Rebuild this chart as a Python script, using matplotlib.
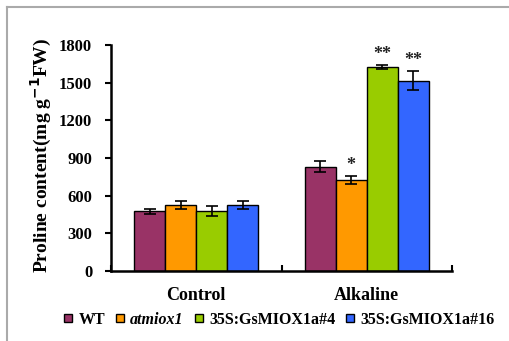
import matplotlib.pyplot as plt
from matplotlib.lines import Line2D
import numpy as np

# proline content, mg g-1 FW
groups = ["Control", "Alkaline"]
lines = ["WT", "atmiox1", "35S:GsMIOX1a#4", "35S:GsMIOX1a#16"]
values = {
    "WT": [475, 830],
    "atmiox1": [525, 725],
    "35S:GsMIOX1a#4": [475, 1625],
    "35S:GsMIOX1a#16": [525, 1515],
}
errors = {
    "WT": [20, 45],
    "atmiox1": [30, 30],
    "35S:GsMIOX1a#4": [40, 15],
    "35S:GsMIOX1a#16": [30, 75],
}
stars = {
    "WT": ["", ""],
    "atmiox1": ["", "*"],
    "35S:GsMIOX1a#4": ["", "**"],
    "35S:GsMIOX1a#16": ["", "**"],
}
colors = ["#993366", "#FF9900", "#99CC00", "#3366FF"]

plt.rcParams["font.family"] = ["Liberation Serif", "DejaVu Serif"]
plt.rcParams["font.weight"] = "bold"

fig = plt.figure(figsize=(5.09, 3.41), dpi=100)
ax = fig.add_axes([111 / 509, 1 - 271 / 341, 341 / 509, 226 / 341])

x = np.arange(len(groups))
w = 0.182
offsets = (np.arange(len(lines)) - 1.5) * w
for i, name in enumerate(lines):
    ax.bar(x + offsets[i], values[name], w, color=colors[i], edgecolor="black",
           linewidth=1.0, yerr=errors[name],
           error_kw=dict(ecolor="black", elinewidth=1.2, capsize=4, capthick=1.2),
           zorder=2)
    for j in range(len(groups)):
        if stars[name][j]:
            ax.text(x[j] + offsets[i], values[name][j] + errors[name][j] + 15,
                    stars[name][j], ha="center", va="bottom", fontsize=13,
                    fontweight="bold", color="#222222")

ax.set_xlim(-0.5, 1.5)
ax.set_ylim(0, 1800)
ax.set_yticks(np.arange(0, 1801, 300))
ax.tick_params(axis="y", direction="out", length=4, width=1.5, labelsize=12, pad=9.5)
ax.set_xticks([-0.5, 0.5, 1.5])
ax.set_xticklabels([])
ax.tick_params(axis="x", direction="in", length=4, width=1.5)
for g, xi in zip(groups, x):
    ax.text(xi, -0.107, g, transform=ax.get_xaxis_transform(), ha="center",
            va="center", fontsize=13, fontweight="bold")
for s in ["top", "right"]:
    ax.spines[s].set_visible(False)
for s in ["left", "bottom"]:
    ax.spines[s].set_linewidth(1.8)
for lab in ax.get_yticklabels():
    lab.set_fontweight("bold")

ax.set_ylabel("Proline content(mg g$^{\\mathbf{-1}}$FW)", fontsize=14,
              fontweight="bold")
ax.yaxis.set_label_coords(-0.167, 0.51)

handles = [Line2D([], [], marker="s", linestyle="", markersize=6,
                  markerfacecolor=c, markeredgecolor="black", markeredgewidth=1)
           for c in colors]
leg = fig.legend(handles, lines, loc="center", bbox_to_anchor=(279 / 509, 1 - 320 / 341),
                 ncol=4, frameon=False, handlelength=0.6,
                 handletextpad=0.33, columnspacing=0.65,
                 prop={"weight": "bold", "size": 11.5})
leg.get_texts()[1].set_fontstyle("italic")

# gray frame on top and left edges
fig.add_artist(Line2D([7 / 509, 1], [1 - 7 / 341, 1 - 7 / 341], color="#aaaaaa", lw=1.5))
fig.add_artist(Line2D([7 / 509, 7 / 509], [0, 1 - 7 / 341], color="#aaaaaa", lw=1.5))

fig.savefig("out.png", dpi=100)
